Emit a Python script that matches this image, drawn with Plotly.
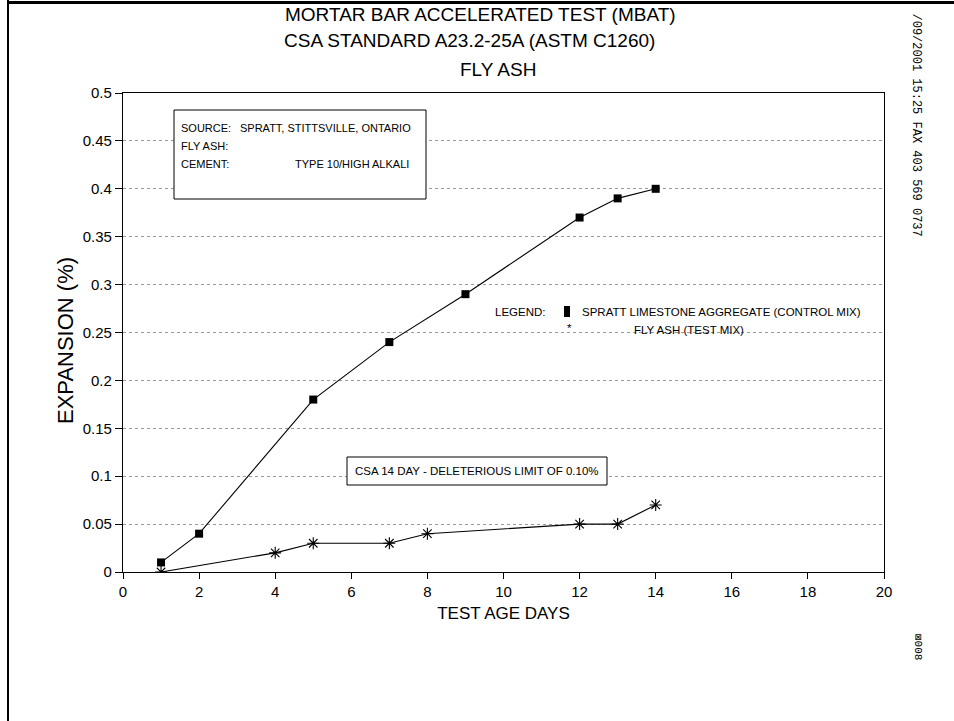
import plotly.graph_objects as go

days_control = [1, 2, 5, 7, 9, 12, 13, 14]
exp_control = [0.01, 0.04, 0.18, 0.24, 0.29, 0.37, 0.39, 0.40]
days_test = [1, 4, 5, 7, 8, 12, 13, 14]
exp_test = [0.0, 0.02, 0.03, 0.03, 0.04, 0.05, 0.05, 0.07]
y_ticks = [0, 0.05, 0.1, 0.15, 0.2, 0.25, 0.3, 0.35, 0.4, 0.45, 0.5]
y_ticklabels = ["0", "0.05", "0.1", "0.15", "0.2", "0.25", "0.3", "0.35", "0.4", "0.45", "0.5"]
x_ticks = list(range(0, 21, 2))

FONT = "Liberation Sans, Arial, sans-serif"
L, R, T, B = 123, 884, 93, 572
PW, PH = R - L, B - T


def px(x):
    return (x - L) / PW


def py(y):
    return (B - y) / PH


fig = go.Figure()
fig.add_trace(go.Scatter(x=days_control, y=exp_control, mode="lines+markers",
                         line=dict(color="black", width=1.1),
                         marker=dict(symbol="square", size=8, color="black"),
                         name="SPRATT LIMESTONE AGGREGATE (CONTROL MIX)"))
fig.add_trace(go.Scatter(x=days_test, y=exp_test, mode="lines+markers",
                         line=dict(color="black", width=1.1),
                         marker=dict(symbol="asterisk-open", size=10, color="black",
                                     line=dict(color="black", width=1.1)),
                         name="FLY ASH (TEST MIX)"))

fig.update_layout(
    width=954, height=721,
    margin=dict(l=L, r=954 - R, t=T, b=721 - B),
    paper_bgcolor="white", plot_bgcolor="white",
    showlegend=False,
    font=dict(family=FONT, color="black"),
    xaxis=dict(range=[0, 20], tickvals=x_ticks, showgrid=False, zeroline=False,
               showline=True, linecolor="black", linewidth=1.2, mirror=True,
               ticks="outside", ticklen=6, tickcolor="black",
               tickfont=dict(size=15, family=FONT),
               title=dict(text="TEST AGE DAYS", font=dict(size=17, family=FONT), standoff=8)),
    yaxis=dict(range=[0, 0.5], tickvals=y_ticks, ticktext=y_ticklabels,
               showgrid=True, gridcolor="#999", griddash="dot", gridwidth=1,
               zeroline=False,
               showline=True, linecolor="black", linewidth=1.2, mirror=True,
               ticks="outside", ticklen=7, tickcolor="black",
               tickfont=dict(size=15, family=FONT)),
)

# y axis title
fig.add_annotation(text="EXPANSION (%)", xref="paper", yref="paper", x=px(65), y=py(341),
                   showarrow=False, textangle=-90, xanchor="center", yanchor="middle",
                   font=dict(size=22, family=FONT))

titles = [("MORTAR BAR ACCELERATED TEST (MBAT)", 480, 14),
          ("CSA STANDARD A23.2-25A (ASTM C1260)", 469, 41),
          ("FLY ASH", 498, 70)]
for t, cx, cy in titles:
    fig.add_annotation(text=t, xref="paper", yref="paper", x=px(cx), y=py(cy),
                       showarrow=False, font=dict(size=19, family=FONT), xanchor="center", yanchor="middle")

# info box
fig.add_shape(type="rect", xref="paper", yref="paper",
              x0=px(174), x1=px(426), y0=py(199), y1=py(110),
              line=dict(color="black", width=1), fillcolor="white", layer="above")
info_labels = ["SOURCE:", "FLY ASH:", "CEMENT:"]
info_values = ["SPRATT, STITTSVILLE, ONTARIO", "", "TYPE 10/HIGH ALKALI"]
info_value_x = [238, 238, 293]
info_y = [128, 146, 164]
for lab, val, vx, yy in zip(info_labels, info_values, info_value_x, info_y):
    fig.add_annotation(text=lab, xref="paper", yref="paper", x=px(179), y=py(yy),
                       showarrow=False, xanchor="left", yanchor="middle", font=dict(size=11, family=FONT))
    if val:
        fig.add_annotation(text=val, xref="paper", yref="paper", x=px(vx), y=py(yy),
                           showarrow=False, xanchor="left", yanchor="middle", font=dict(size=11, family=FONT))

# legend text
fig.add_annotation(text="LEGEND:", xref="paper", yref="paper", x=px(493), y=py(312),
                   showarrow=False, xanchor="left", yanchor="middle", font=dict(size=11.5, family=FONT))
fig.add_shape(type="rect", xref="paper", yref="paper", x0=px(564), x1=px(570), y0=py(317), y1=py(306),
              line=dict(color="black", width=0), fillcolor="black", layer="above")
fig.add_annotation(text="SPRATT LIMESTONE AGGREGATE (CONTROL MIX)", xref="paper", yref="paper",
                   x=px(580), y=py(312),
                   showarrow=False, xanchor="left", yanchor="middle", font=dict(size=11.5, family=FONT))
fig.add_annotation(text="*", xref="paper", yref="paper", x=px(569), y=py(328),
                   showarrow=False, xanchor="center", yanchor="middle", font=dict(size=11.5, family=FONT))
fig.add_annotation(text="FLY ASH (TEST MIX)", xref="paper", yref="paper", x=px(632), y=py(330),
                   showarrow=False, xanchor="left", yanchor="middle", font=dict(size=11.5, family=FONT))

# CSA box
fig.add_shape(type="rect", xref="paper", yref="paper",
              x0=px(347), x1=px(607), y0=py(485), y1=py(457),
              line=dict(color="black", width=1), fillcolor="white", layer="above")
fig.add_annotation(text="CSA 14 DAY - DELETERIOUS LIMIT OF 0.10%", xref="paper", yref="paper",
                   x=px(477), y=py(471), showarrow=False,
                   xanchor="center", yanchor="middle", font=dict(size=11.5, family=FONT))

# fax header, rotated
fig.add_annotation(text="/09/2001 15:25 FAX 403 569 0737", xref="paper", yref="paper",
                   x=px(916), y=py(12), showarrow=False, textangle=90,
                   xanchor="center", yanchor="top", font=dict(size=12, family="Liberation Mono, monospace"))
fig.add_annotation(text="⊠008", xref="paper", yref="paper",
                   x=px(918), y=py(632), showarrow=False, textangle=90,
                   xanchor="center", yanchor="top", font=dict(size=11, family="Liberation Mono, monospace"))

# page borders
fig.add_shape(type="line", xref="paper", yref="paper", x0=px(8), x1=px(8),
              y0=py(721), y1=py(0), line=dict(color="black", width=2))
fig.add_shape(type="line", xref="paper", yref="paper", x0=px(8), x1=px(954),
              y0=py(2.5), y1=py(2.5), line=dict(color="black", width=3))

fig.write_html("out.html",
               config={"displayModeBar": False},
               post_script="document.body.style.margin='0';document.body.style.overflow='hidden';")
